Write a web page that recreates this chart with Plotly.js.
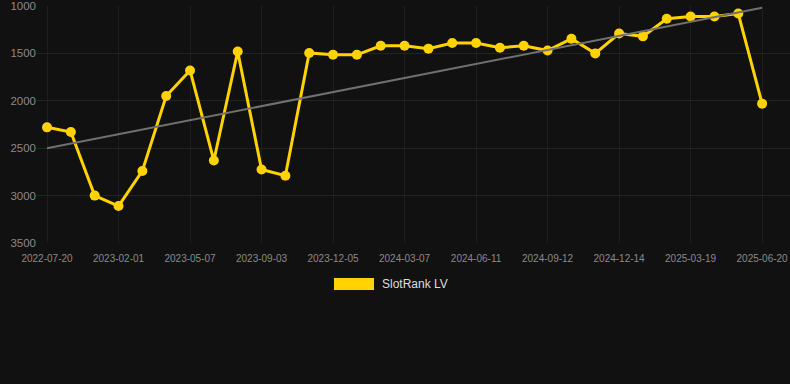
<!DOCTYPE html>
<html>
<head>
<meta charset="utf-8">
<script src="https://cdn.plot.ly/plotly-3.0.1.min.js"></script>
<style>
html,body{margin:0;padding:0;background:#111111;}
#chart{width:790px;height:384px;}
</style>
</head>
<body>
<div id="chart"></div>
<script>
// Category labels (dates); every third one is shown as a tick label
var dates = [
  "2022-07-20","2022-09-24","2022-11-28",
  "2023-02-01","2023-03-05","2023-04-05",
  "2023-05-07","2023-06-15","2023-07-25",
  "2023-09-03","2023-10-04","2023-11-04",
  "2023-12-05","2024-01-05","2024-02-05",
  "2024-03-07","2024-04-08","2024-05-10",
  "2024-06-11","2024-07-12","2024-08-12",
  "2024-09-12","2024-10-13","2024-11-13",
  "2024-12-14","2025-01-15","2025-02-15",
  "2025-03-19","2025-04-19","2025-05-20",
  "2025-06-20"
];
var rankLV = [
  2280, 2330, 3000,
  3110, 2740, 1950,
  1680, 2630, 1480,
  2725, 2790, 1495,
  1515, 1515, 1420,
  1420, 1450, 1390,
  1390, 1440, 1420,
  1470, 1345, 1500,
  1290, 1320, 1135,
  1110, 1110, 1080,
  2030
];
var tickDates = ["2022-07-20","2023-02-01","2023-05-07","2023-09-03","2023-12-05","2024-03-07","2024-06-11","2024-09-12","2024-12-14","2025-03-19","2025-06-20"];
var yTicks = [1000, 1500, 2000, 2500, 3000, 3500];
var seriesName = "SlotRank LV";

// linear trend (least squares over category index)
var n = rankLV.length, sx = 0, sy = 0, sxx = 0, sxy = 0;
for (var i = 0; i < n; i++) { sx += i; sy += rankLV[i]; sxx += i*i; sxy += i*rankLV[i]; }
var slope = (n*sxy - sx*sy) / (n*sxx - sx*sx);
var intercept = (sy - slope*sx) / n;
var trendX = [dates[0], dates[n-1]];
var trendY = [intercept, intercept + slope*(n-1)];

var gold = "#FFD200";
var traces = [
  {
    x: dates, y: rankLV, type: "scatter", mode: "lines+markers", name: seriesName,
    line: {color: gold, width: 3},
    marker: {color: gold, size: 10},
    showlegend: false
  },
  {
    x: trendX, y: trendY, type: "scatter", mode: "lines",
    line: {color: "#707070", width: 2}, hoverinfo: "skip", showlegend: false
  }
];

var layout = {
  width: 790, height: 384,
  paper_bgcolor: "#111111", plot_bgcolor: "#111111",
  margin: {l: 37, r: 0, t: 6, b: 141},
  font: {family: "Liberation Sans, Arial, sans-serif", color: "#8a8a8a"},
  showlegend: false,
  xaxis: {
    type: "category",
    categoryorder: "array", categoryarray: dates,
    range: [-0.42, 31.17],
    tickmode: "array", tickvals: tickDates, ticktext: tickDates,
    tickfont: {size: 10, color: "#8a8a8a"},
    ticklabelstandoff: 8,
    showgrid: true, gridcolor: "#1f1f1f", gridwidth: 1,
    zeroline: false, showline: false, ticks: "", ticklen: 0,
    tickangle: 0
  },
  yaxis: {
    range: [3500, 1000],
    tickmode: "array", tickvals: yTicks,
    tickfont: {size: 11.5, color: "#8a8a8a"},
    showgrid: true, gridcolor: "#232323", gridwidth: 1,
    zeroline: false, showline: false, ticks: "", ticklen: 0
  },
  shapes: [
    {type: "rect", xref: "paper", yref: "paper",
     x0: (334-37)/753, x1: (374-37)/753,
     y0: (384-141-290)/237, y1: (384-141-278)/237,
     fillcolor: gold, line: {width: 0}}
  ],
  annotations: [
    {xref: "paper", yref: "paper", x: (380-37)/753, y: (384-141-284)/237,
     xanchor: "left", yanchor: "middle", showarrow: false,
     text: seriesName, font: {size: 12, color: "#dddddd"}}
  ]
};

Plotly.newPlot("chart", traces, layout, {displayModeBar: false, staticPlot: true});
</script>
</body>
</html>
